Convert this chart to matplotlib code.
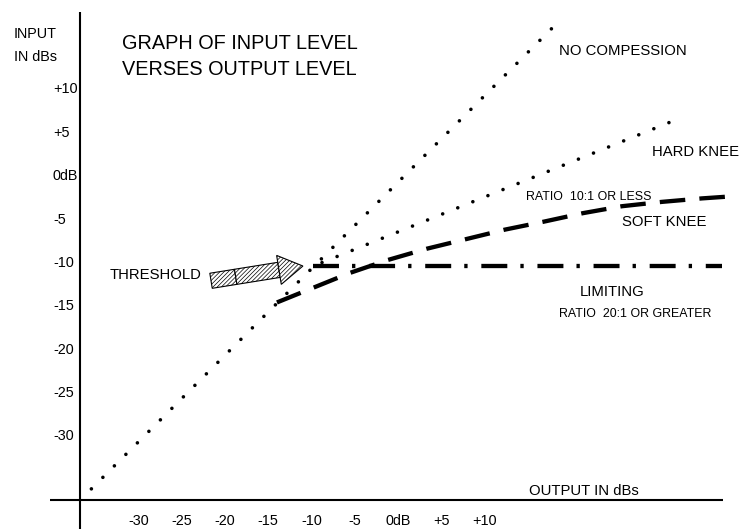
import numpy as np
import matplotlib
matplotlib.use('Agg')
import matplotlib.pyplot as plt
from matplotlib.patches import Polygon

plt.rcParams['font.family'] = ['Liberation Sans', 'DejaVu Sans']
plt.rcParams['lines.scale_dashes'] = False
plt.rcParams['hatch.linewidth'] = 0.5

# ---------------- data (dB) ----------------
y_ticks = [10, 5, 0, -5, -10, -15, -20, -25, -30]
y_tick_labels = ['+10', '+5', '0dB', '-5', '-10', '-15', '-20', '-25', '-30']
x_ticks = [-30, -25, -20, -15, -10, -5, 0, 5, 10]
x_tick_labels = ['-30', '-25', '-20', '-15', '-10', '-5', '0dB', '+5', '+10']

nocomp_x = [-35.4, 17.9]
nocomp_y = [-36.2, 17.1]

hard_x = [-8.8, 32.6]
hard_y = [-10.1, 6.6]

soft_x = [-14.0, -9.8, -5.6, -1.2, 3.3, 7.8, 12.3, 16.7, 21.3, 25.8, 30.4, 35.0, 37.9]
soft_y = [-14.7, -13.0, -11.3, -9.8, -8.5, -7.4, -6.3, -5.4, -4.4, -3.6, -3.1, -2.7, -2.5]

limit_x = [-9.8, 37.3]
limit_y = [-10.5, -10.5]

threshold_tail = (-21.6, -12.2)
threshold_tip = (-11.0, -10.5)

# ---------------- layout ----------------
W, H, DPI = 741, 529, 100
X0, Y0, K = 398.3, 175.0, 8.67   # pixel of 0 dB and px per dB


def dx(px):
    return (px - X0) / K


def dy(py):
    return (Y0 - py) / K


fig = plt.figure(figsize=(W / DPI, H / DPI), dpi=DPI)
ax = fig.add_axes([0, 0, 1, 1])
ax.set_xlim(dx(0), dx(W))
ax.set_ylim(dy(H), dy(0))
ax.axis('off')

# axes lines
ax.plot([dx(80), dx(80)], [dy(11.7), dy(H + 5)], color='black', lw=1.5, solid_capstyle='butt')
ax.plot([dx(50), dx(723)], [dy(500.3), dy(500.3)], color='black', lw=1.5, solid_capstyle='butt')

# curves
dot_style = dict(color='black', lw=2.6, dash_capstyle='round', linestyle=(0, (0.01, 11.7)))
ax.plot(nocomp_x, nocomp_y, **dot_style)
ax.plot(hard_x, hard_y, **dot_style)
ax.plot(soft_x, soft_y, color='black', lw=3.1, dash_capstyle='butt',
        linestyle=(0, (18.4, 10.2)))
ax.plot(limit_x, limit_y, color='black', lw=3.1, dash_capstyle='butt',
        linestyle=(0, (18.7, 9.4, 2.4, 9.9)))

# threshold arrow (hatched)
tail = np.array(threshold_tail)
tip = np.array(threshold_tip)
u = (tip - tail) / np.linalg.norm(tip - tail)
n = np.array([-u[1], u[0]])
body_w, head_w, head_len, divider = 1.76, 3.38, 2.8, 2.88
base = tip - head_len * u
mid = tail + divider * u
segs = [
    [tail + n * body_w / 2, mid + n * body_w / 2, mid - n * body_w / 2, tail - n * body_w / 2],
    [mid + n * body_w / 2, base + n * body_w / 2, base - n * body_w / 2, mid - n * body_w / 2],
    [base + n * head_w / 2, tip, base - n * head_w / 2],
]
for s in segs:
    ax.add_patch(Polygon(np.array(s), closed=True, facecolor='white', edgecolor='black',
                         lw=0.8, hatch='////////', zorder=3))


def label(px, cy, s, size, ha='left'):
    em = size * DPI / 72.0
    base_py = cy + 0.358 * em
    ax.text(dx(px), dy(base_py), s, fontsize=size, ha=ha, va='baseline', color='black')


TICK = 10.4
for v, lab in zip(y_ticks, y_tick_labels):
    em = TICK * DPI / 72.0
    ax.text(dx(53), v - 0.358 * em / K, lab, fontsize=TICK, ha='left', va='baseline')
for v, lab in zip(x_ticks, x_tick_labels):
    em = TICK * DPI / 72.0
    ax.text(v, dy(520 + 0.358 * em), lab, fontsize=TICK, ha='center', va='baseline')

LBL = 10.7
label(14, 32.8, 'INPUT', TICK)
label(14, 55.5, 'IN dBs', TICK)
label(122.5, 42.3, 'GRAPH OF INPUT LEVEL', 14.3)
label(121.7, 67.7, 'VERSES OUTPUT LEVEL', 14.3)
label(559, 50, 'NO COMPESSION', LBL)
label(652.3, 151, 'HARD KNEE', LBL)
label(526, 195.3, 'RATIO  10:1 OR LESS', 8.9)
label(622.3, 221, 'SOFT KNEE', LBL)
label(579.3, 291, 'LIMITING', LBL)
label(559, 312.7, 'RATIO  20:1 OR GREATER', 8.9)
label(110, 274, 'THRESHOLD', LBL)
label(529.3, 490, 'OUTPUT IN dBs', LBL)

fig.savefig('out.png', dpi=DPI)
